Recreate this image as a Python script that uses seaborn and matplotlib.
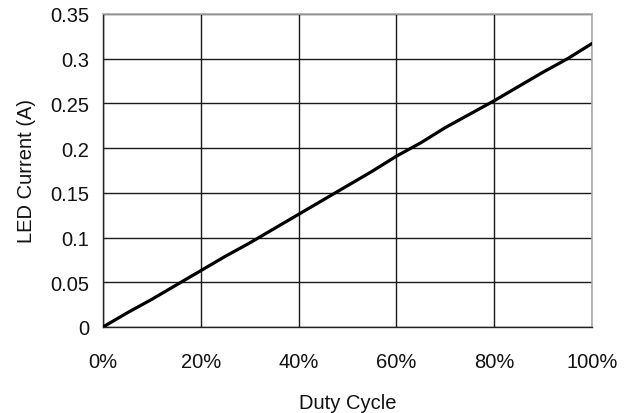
import matplotlib
matplotlib.use("Agg")
import matplotlib.pyplot as plt
import matplotlib.ticker as mticker
import seaborn as sns
import pandas as pd

duty_cycle = [0.00, 0.05, 0.10, 0.15, 0.20, 0.25, 0.30, 0.35, 0.40, 0.45, 0.50,
              0.55, 0.60, 0.65, 0.70, 0.75, 0.80, 0.85, 0.90, 0.95, 1.00]
led_current = [0.000, 0.016, 0.031, 0.047, 0.063, 0.079, 0.094, 0.110, 0.126, 0.142, 0.158,
               0.174, 0.191, 0.206, 0.223, 0.238, 0.253, 0.269, 0.285, 0.300, 0.317]
x_ticks = [0.0, 0.2, 0.4, 0.6, 0.8, 1.0]
y_ticks = [0, 0.05, 0.1, 0.15, 0.2, 0.25, 0.3, 0.35]
y_tick_labels = ["0", "0.05", "0.1", "0.15", "0.2", "0.25", "0.3", "0.35"]

df = pd.DataFrame({"Duty Cycle": duty_cycle, "LED Current (A)": led_current})

sns.set_style("white")
plt.rcParams["font.family"] = ["Liberation Sans", "DejaVu Sans"]

fig = plt.figure(figsize=(6.34, 4.14), dpi=100)
ax = fig.add_axes([103 / 634, 1 - 328 / 414, (592 - 103) / 634, (328 - 15) / 414])

sns.lineplot(data=df, x="Duty Cycle", y="LED Current (A)", ax=ax,
             color="black", linewidth=2.3, zorder=3)

ax.set_xlim(0, 1)
ax.set_ylim(0, 0.35)
ax.set_xticks(x_ticks)
ax.xaxis.set_major_formatter(mticker.FuncFormatter(lambda v, p: f"{v * 100:.0f}%"))
ax.set_yticks(y_ticks)
ax.set_yticklabels(y_tick_labels)

ax.grid(True, color="#1a1a1a", linewidth=1.0)
ax.set_axisbelow(True)

for side in ["left", "bottom"]:
    ax.spines[side].set_color("#222222")
    ax.spines[side].set_linewidth(1.0)
for side in ["top", "right"]:
    ax.spines[side].set_color("#aaaaaa")
    ax.spines[side].set_linewidth(1.2)
    ax.spines[side].set_visible(True)

ax.tick_params(axis="both", length=0, labelsize=14.5, colors="#111111")
ax.tick_params(axis="x", pad=18)
ax.tick_params(axis="y", pad=10)

ax.set_xlabel("Duty Cycle", fontsize=14.5, color="#111111", labelpad=16)
ax.set_ylabel("LED Current (A)", fontsize=14.5, color="#111111", labelpad=10)

fig.savefig("out.png", dpi=100)
